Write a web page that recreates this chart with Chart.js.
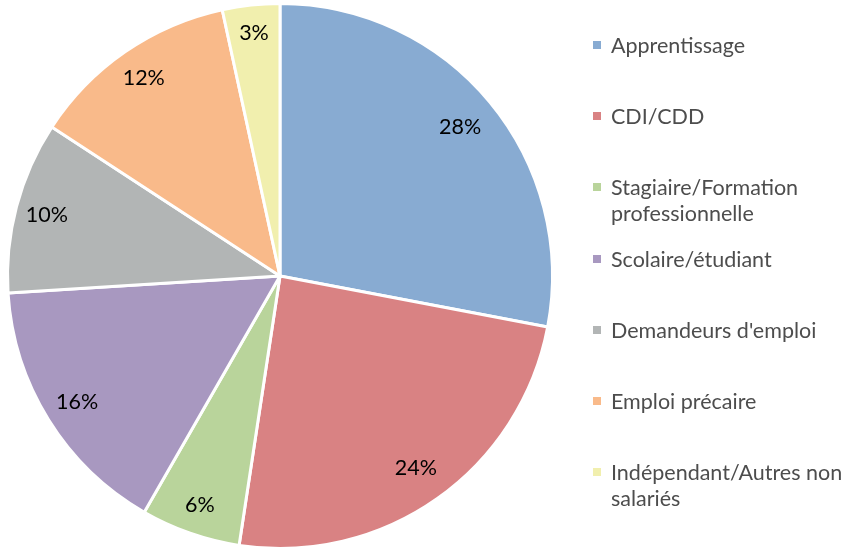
<!DOCTYPE html>
<html>
<head>
<meta charset="utf-8">
<script src="https://cdn.jsdelivr.net/npm/chart.js@4/dist/chart.umd.min.js"></script>
<style>
  html, body { margin: 0; padding: 0; background: #fff; overflow: hidden; }
  #wrap { position: relative; width: 854px; height: 548px; overflow: hidden; }
  #c { position: absolute; left: 0; top: 0; }
  #legend { position: absolute; left: 0; top: 0; width: 854px; height: 548px; pointer-events: none;
            font-family: "Lato", "Open Sans", sans-serif; font-size: 21.5px; color: #4d4d4d; }
  .item { position: absolute; left: 593px; width: 261px; line-height: 26px; }
  .sw { position: absolute; left: 0; top: 9px; width: 8px; height: 8px; }
  .tx { position: absolute; left: 18px; top: 0; width: 250px; white-space: nowrap; }
</style>
</head>
<body>
<div id="wrap">
  <canvas id="c" width="854" height="550"></canvas>
  <div id="legend"></div>
</div>
<script>
const categories = [
  "Apprentissage",
  "CDI/CDD",
  "Stagiaire/Formation professionnelle",
  "Scolaire/étudiant",
  "Demandeurs d'emploi",
  "Emploi précaire",
  "Indépendant/Autres non salariés"
];
const values = [28.0, 24.4, 5.9, 15.7, 10.2, 12.4, 3.4];
const valueLabels = ["28%", "24%", "6%", "16%", "10%", "12%", "3%"];
const colors = ["#88abd2", "#d98283", "#b9d49b", "#a898c0", "#b2b5b5", "#f9ba8a", "#f1efae"];
const legendLines = [
  ["Apprentissage"],
  ["CDI/CDD"],
  ["Stagiaire/Formation", "professionnelle"],
  ["Scolaire/étudiant"],
  ["Demandeurs d'emploi"],
  ["Emploi précaire"],
  ["Indépendant/Autres non", "salariés"]
];

const labelPlugin = {
  id: 'sliceLabels',
  afterDatasetsDraw(chart) {
    const ctx = chart.ctx;
    const meta = chart.getDatasetMeta(0);
    ctx.save();
    ctx.font = '21.5px Lato, "Open Sans", sans-serif';
    ctx.fillStyle = '#000';
    ctx.textAlign = 'center';
    ctx.textBaseline = 'middle';
    meta.data.forEach((arc, i) => {
      const p = arc.getProps(['x','y','startAngle','endAngle','outerRadius'], true);
      const mid = (p.startAngle + p.endAngle) / 2;
      const r = p.outerRadius * (0.9 - values[i] * 0.0015);
      ctx.fillText(valueLabels[i], p.x + Math.cos(mid) * r, p.y + Math.sin(mid) * r);
    });
    ctx.restore();
  }
};

new Chart(document.getElementById('c'), {
  type: 'pie',
  data: {
    labels: categories,
    datasets: [{
      data: values,
      backgroundColor: colors,
      borderColor: '#ffffff',
      borderWidth: 3
    }]
  },
  options: {
    responsive: false,
    animation: false,
    layout: { padding: { left: 4, right: 298, top: 2, bottom: 0 } },
    plugins: { legend: { display: false }, tooltip: { enabled: false } }
  },
  plugins: [labelPlugin]
});

const leg = document.getElementById('legend');
legendLines.forEach((lines, i) => {
  const d = document.createElement('div');
  d.className = 'item';
  d.style.top = (32 + i * 71.2) + 'px';
  const sw = document.createElement('div');
  sw.className = 'sw';
  sw.style.background = colors[i];
  const tx = document.createElement('div');
  tx.className = 'tx';
  tx.innerHTML = lines.map(s => s.replace(/&/g,'&amp;').replace(/</g,'&lt;')).join('<br>');
  d.appendChild(sw); d.appendChild(tx);
  leg.appendChild(d);
});
</script>
</body>
</html>
